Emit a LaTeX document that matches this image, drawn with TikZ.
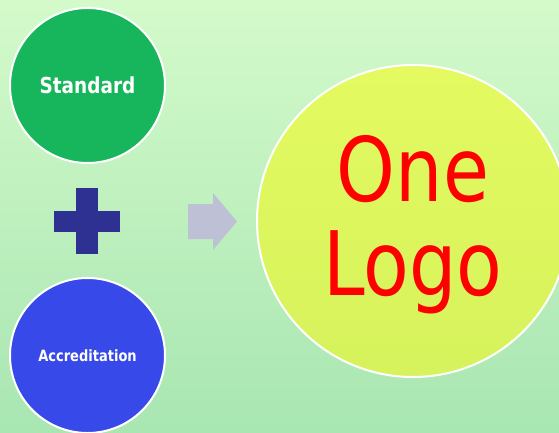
\documentclass[tikz,border=0pt]{standalone}
\usepackage{fontspec}
\setmainfont{DejaVu Sans}[FakeStretch=0.84]
\usetikzlibrary{calc}

\begin{document}
\begin{tikzpicture}[x=1pt, y=-1pt,
    bola/.style={circle, draw=white, line width=2pt, inner sep=0pt}]
    \definecolor{fondo1}{RGB}{212,250,202}   % Verde claro
    \definecolor{fondo2}{RGB}{168,230,178}   % Verde medio
    \definecolor{verde}{RGB}{24,182,92}      % Verde
    \definecolor{azul}{RGB}{55,73,232}       % Azul
    \definecolor{cruz}{RGB}{46,49,146}       % Azul oscuro
    \definecolor{flecha}{RGB}{190,192,214}   % Lila
    \definecolor{amar1}{RGB}{228,250,96}     % Amarillo
    \definecolor{amar2}{RGB}{214,242,92}     % Amarillo oscuro

    \useasboundingbox (0,0) rectangle (559,432);
    \shade[top color=fondo1, bottom color=fondo2] (0,0) rectangle (559,432);

    \node (S) at (87.5,85.5) [bola, fill=verde, minimum size=155pt, text=white,
        font=\bfseries\fontsize{22}{26}\selectfont] {Standard};
    \node (A) at (87.5,355.5) [bola, fill=azul, minimum size=155pt, text=white,
        font=\bfseries\fontsize{15.5}{18}\selectfont] {Accreditation};
    \node (L) at (413,221) [bola, minimum size=312pt, top color=amar1, bottom color=amar2,
        text=red, align=center, text depth=11pt, font=\fontsize{89}{94}\selectfont] {One\\Logo};

    % signo mas
    \fill[cruz] (76,188) rectangle (98,254);
    \fill[cruz] (54,211) rectangle (120,232);

    % flecha
    \fill[flecha] (188,204) -- (213,204) -- (213,193) -- (237,221.5)
        -- (213,250) -- (213,239) -- (188,239) -- cycle;
  \end{tikzpicture}
\end{document}
